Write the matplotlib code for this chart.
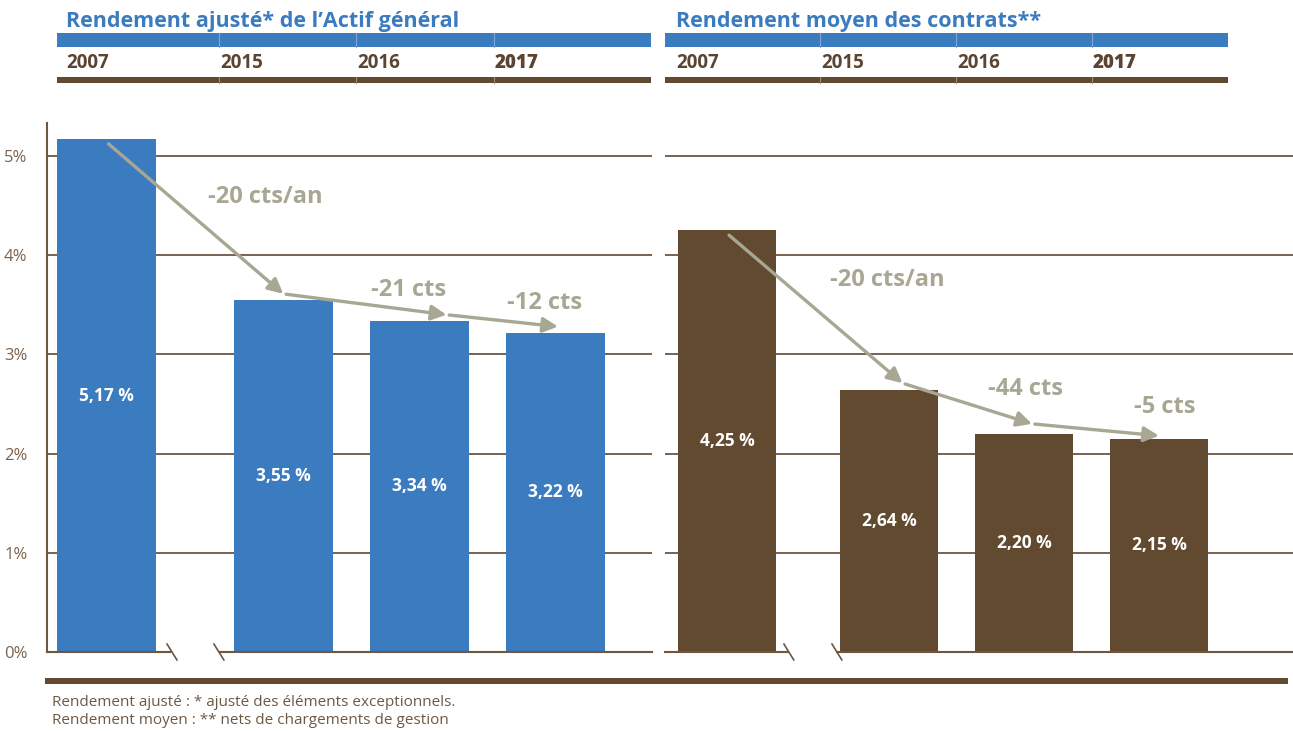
import matplotlib
matplotlib.use("Agg")
import matplotlib.pyplot as plt
from matplotlib.patches import Rectangle

plt.rcParams['font.family'] = ['Open Sans', 'DejaVu Sans']

# data
years = ["2007", "2015", "2016", "2017"]
rend_actif = [5.17, 3.55, 3.34, 3.22]
rend_contrats = [4.25, 2.64, 2.20, 2.15]
delta_actif = ["-20 cts/an", "-21 cts", "-12 cts"]
delta_contrats = ["-20 cts/an", "-44 cts", "-5 cts"]
titles = ["Rendement ajusté* de l\u2019Actif général", "Rendement moyen des contrats**"]
yticks = [0, 1, 2, 3, 4, 5]
footnotes = ["Rendement ajusté : * ajusté des éléments exceptionnels.",
             "Rendement moyen : ** nets de chargements de gestion"]

BLUE = '#3b7bbf'
BROWN = '#624a31'
GRID = '#6e5641'
ARROW = '#a8a793'
TICK = '#7a624c'
YEAR = '#5b4532'

W, H = 1293, 731
fig = plt.figure(figsize=(W / 100, H / 100), dpi=100)

# pixel -> figure fraction helper
def px_rect(x0, y0, x1, y1):
    return [x0 / W, 1 - y1 / H, (x1 - x0) / W, (y1 - y0) / H]


def draw_panel(ax, values, color, pos, xlim, deltas, node_dx, node_dy, lab_xy,
               brk, slashes, show_ticks):
    ax.set_xlim(*xlim)
    ax.set_ylim(0, 529 / 99.2)
    for y in yticks[1:]:
        ax.axhline(y, color=GRID, lw=1.3, zorder=1)
    ax.bar(pos, values, width=0.73, color=color, zorder=2)
    for p, v in zip(pos, values):
        ax.text(p, v / 2, f"{v:.2f} %".replace(".", ","), color='white',
                ha='center', va='center', fontsize=12.5, fontweight='bold', zorder=4)

    # arrows between bars
    nodes = [(p + dx, v + dy) for p, v, dx, dy in zip(pos, values, node_dx, node_dy)]
    for i in range(len(nodes) - 1):
        ax.annotate("", xy=nodes[i + 1], xytext=nodes[i],
                    arrowprops=dict(arrowstyle="-|>,head_length=0.9,head_width=0.45",
                                    color=ARROW, lw=2.4, shrinkA=2, shrinkB=0),
                    zorder=5)
        ax.text(lab_xy[i][0], lab_xy[i][1], deltas[i], color=ARROW, ha='center',
                va='center', fontsize=17, fontweight='bold', zorder=5)

    # baseline with break
    x0, x1 = xlim
    ax.plot([x0, brk[0]], [0, 0], color=GRID, lw=1.5, clip_on=False, zorder=3)
    ax.plot([brk[1], x1], [0, 0], color=GRID, lw=1.5, clip_on=False, zorder=3)
    for s in slashes:
        ax.plot([s, s + 0.073], [0.08, -0.08], color=GRID, lw=1.2, clip_on=False, zorder=3)

    for sp in ['top', 'right', 'bottom']:
        ax.spines[sp].set_visible(False)
    ax.set_xticks([])
    if show_ticks:
        ax.spines['left'].set_color(GRID)
        ax.spines['left'].set_linewidth(1.5)
        ax.set_yticks(yticks)
        ax.set_yticklabels([f"{t}%" for t in yticks], color=TICK, fontsize=12)
        ax.tick_params(axis='y', length=0, pad=14)
    else:
        ax.spines['left'].set_visible(False)
        ax.set_yticks([])


ax1 = fig.add_axes(px_rect(47, 123, 652, 652))
draw_panel(ax1, rend_actif, BLUE, [0, 1.3, 2.3, 3.3], (-0.4375, 4.011),
           delta_actif, [0, 0, 0.2, 0.02], [-0.03, 0.06, 0.06, 0.06],
           [(1.17, 4.59), (2.22, 3.65), (3.22, 3.52)],
           (0.467, 0.835), [0.445, 0.79], True)

ax2 = fig.add_axes(px_rect(665, 123, 1293, 652))
draw_panel(ax2, rend_contrats, BROWN, [0, 1.2, 2.2, 3.2], (-0.459, 4.193),
           delta_contrats, [0, 0.1, 0.06, 0], [-0.03, 0.07, 0.1, 0.03],
           [(1.19, 3.75), (2.21, 2.65), (3.24, 2.47)],
           (0.452, 0.815), [0.422, 0.778], False)

# header and footer overlay in pixel coordinates
ov = fig.add_axes([0, 0, 1, 1], zorder=-1)
ov.set_xlim(0, W)
ov.set_ylim(H, 0)
ov.axis('off')

bands = [(57, 651, 66, [219, 356, 494]), (665, 1228, 676, [820, 956, 1092])]
for (bx0, bx1, tx, divs), title in zip(bands, titles):
    ov.text(tx, 22, title, color=BLUE, fontsize=15.5, fontweight='bold', va='center', ha='left')
    ov.add_patch(Rectangle((bx0, 33), bx1 - bx0, 14, color=BLUE, lw=0))
    ov.add_patch(Rectangle((bx0, 77), bx1 - bx0, 6, color=BROWN, lw=0))
    for d in divs:
        ov.plot([d, d], [33, 47], color='#7fa6d6', lw=0.8)
        ov.plot([d, d], [77, 83], color='#a08c76', lw=0.8)
    xs = [tx] + [d + 1 for d in divs]
    for x, yr in zip(xs, years):
        ov.text(x, 63, yr, color=YEAR, fontsize=13.5,
                fontweight='heavy' if yr == years[-1] else 'bold', va='center', ha='left')

ov.add_patch(Rectangle((45, 678), 1243, 6, color=BROWN, lw=0))
for i, line in enumerate(footnotes):
    ov.text(52, 703 + 17 * i, line, color='#6d5844', fontsize=11, va='center', ha='left')

fig.savefig("out.png", dpi=100)
